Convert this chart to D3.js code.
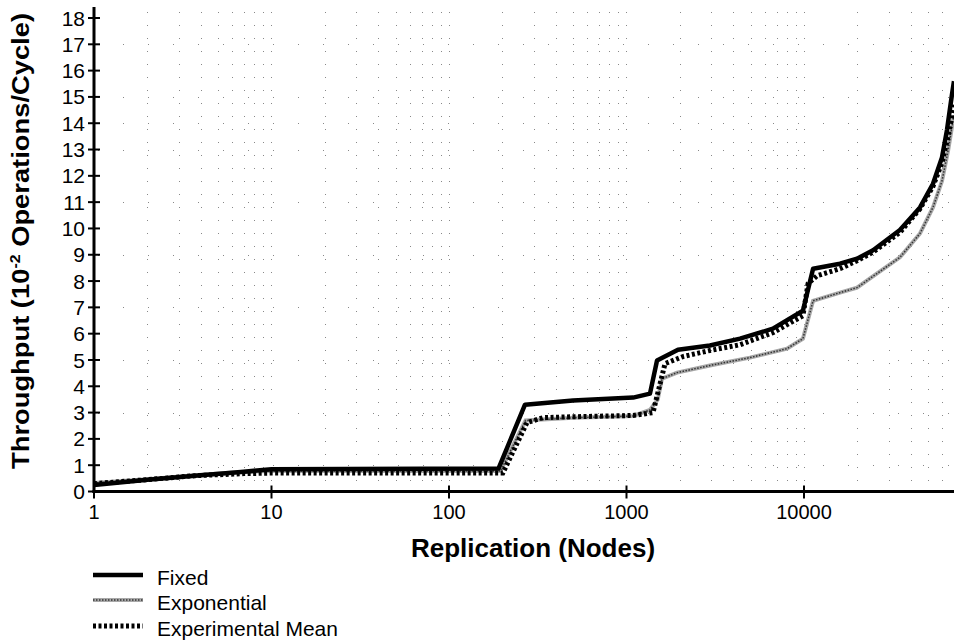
<!DOCTYPE html>
<html>
<head>
<meta charset="utf-8">
<script src="https://cdn.jsdelivr.net/npm/d3@7"></script>
<style>
  body { margin: 0; background: #fff; }
  svg { display: block; font-family: "Liberation Sans", Arial, Helvetica, sans-serif; }
</style>
</head>
<body>
<svg id="chart" width="954" height="642"></svg>
<script>
// series (x = nodes, y = 10^-2 ops/cycle)
const fixedX = [1, 2, 3.7, 7, 10, 190, 268, 500, 1090, 1356, 1486, 1950, 2950, 4360, 6680, 9860, 11250, 15950, 19900, 24500, 34700, 45050, 53300, 59900, 63900, 68200, 70000];
const fixedY = [0.25, 0.45, 0.6, 0.75, 0.85, 0.87, 3.30, 3.46, 3.57, 3.72, 4.98, 5.39, 5.55, 5.81, 6.19, 6.87, 8.47, 8.66, 8.85, 9.17, 9.94, 10.8, 11.7, 12.7, 13.74, 15.1, 15.6];

const expoX = [1, 2, 3.7, 7, 10, 195, 270, 500, 1090, 1356, 1500, 1585, 1928, 2950, 4960, 8020, 9860, 11250, 15950, 19900, 23550, 34700, 45050, 53300, 59900, 64800, 69100, 70000];
const expoY = [0.32, 0.47, 0.62, 0.75, 0.78, 0.78, 2.7, 2.8, 2.87, 3.1, 3.5, 4.29, 4.52, 4.79, 5.09, 5.43, 5.81, 7.25, 7.56, 7.75, 8.1, 8.9, 9.81, 10.8, 11.8, 12.95, 14.1, 14.3];

const meanX = [1, 2, 3.7, 7, 10, 201, 275, 340, 569, 1090, 1410, 1648, 2080, 2950, 4360, 6680, 9860, 10540, 11830, 15950, 19900, 24500, 34700, 45050, 53300, 59900, 64800, 70000];
const meanY = [0.3, 0.45, 0.6, 0.68, 0.7, 0.7, 2.62, 2.81, 2.85, 2.89, 3.0, 4.86, 5.13, 5.36, 5.58, 6.04, 6.68, 7.9, 8.2, 8.47, 8.77, 9.1, 9.85, 10.75, 11.6, 12.5, 13.5, 14.7];

const xTicks = [1, 10, 100, 1000, 10000];
const yTicks = d3.range(0, 19);
const legendLabels = ['Fixed', 'Exponential', 'Experimental Mean'];

const margin = {left: 94, right: 954, top: 18, bottom: 491.5};

const svg = d3.select('#chart');
const x = d3.scaleLog().domain([1, 70000]).range([margin.left, margin.right]);
const y = d3.scaleLinear().domain([0, 18]).range([margin.bottom, margin.top]);

const zip = (xs, ys) => xs.map((v, i) => ({x: v, y: ys[i]}));
const line = d3.line().x(d => x(d.x)).y(d => y(d.y));

svg.append('defs').append('clipPath').attr('id', 'plot')
  .append('rect').attr('x', margin.left).attr('y', 0)
  .attr('width', margin.right - margin.left).attr('height', margin.bottom + 2);

// faint dotted grid, like the scanned original
const minor = [];
for (let e = 0; e <= 4; e++) for (let m = 1; m <= 9; m++) minor.push(m * Math.pow(10, e));
const grid = svg.append('g').attr('stroke', '#888').attr('stroke-width', 1);
grid.selectAll('line.v').data(minor.filter(d => d > 1 && d < 70000)).enter().append('line')
  .attr('x1', d => Math.round(x(d)) + 0.5).attr('x2', d => Math.round(x(d)) + 0.5)
  .attr('y1', 12).attr('y2', margin.bottom - 2)
  .attr('stroke-dasharray', '1,12');
grid.selectAll('line.h').data(yTicks.filter(d => d % 2 === 1 || d === 14)).enter().append('line')
  .attr('x1', margin.left + 4).attr('x2', margin.right)
  .attr('y1', d => Math.round(y(d)) + 0.5).attr('y2', d => Math.round(y(d)) + 0.5)
  .attr('stroke-dasharray', '1,24');

const plot = svg.append('g').attr('clip-path', 'url(#plot)');

// exponential: grey hatched
plot.append('path').datum(zip(expoX, expoY)).attr('d', line)
  .attr('fill', 'none').attr('stroke', '#a8a8a8').attr('stroke-width', 4);
plot.append('path').datum(zip(expoX, expoY)).attr('d', line)
  .attr('fill', 'none').attr('stroke', '#333').attr('stroke-width', 1.5).attr('stroke-dasharray', '1.5,1.5');

// fixed: thick solid
plot.append('path').datum(zip(fixedX, fixedY)).attr('d', line)
  .attr('fill', 'none').attr('stroke', '#000').attr('stroke-width', 4.5).attr('stroke-linejoin', 'round');

// experimental mean: thick dotted
plot.append('path').datum(zip(meanX, meanY)).attr('d', line)
  .attr('fill', 'none').attr('stroke', '#000').attr('stroke-width', 5).attr('stroke-dasharray', '3,2.5');

// axes
svg.append('line').attr('x1', margin.left).attr('x2', margin.left).attr('y1', 7).attr('y2', margin.bottom + 1.5)
  .attr('stroke', '#000').attr('stroke-width', 3);
svg.append('line').attr('x1', margin.left - 1.5).attr('x2', margin.right).attr('y1', margin.bottom).attr('y2', margin.bottom)
  .attr('stroke', '#000').attr('stroke-width', 3);

const yAxis = svg.append('g');
yAxis.selectAll('line').data(yTicks).enter().append('line')
  .attr('x1', margin.left - 6).attr('x2', margin.left + 6)
  .attr('y1', d => y(d)).attr('y2', d => y(d))
  .attr('stroke', '#000').attr('stroke-width', 2);
yAxis.selectAll('text').data(yTicks).enter().append('text')
  .attr('x', margin.left - 9).attr('y', d => y(d)).attr('dy', '0.36em')
  .attr('text-anchor', 'end').attr('font-size', 21).text(d => d);

const xAxis = svg.append('g');
xAxis.selectAll('line').data(xTicks).enter().append('line')
  .attr('x1', d => x(d)).attr('x2', d => x(d))
  .attr('y1', margin.bottom - 6).attr('y2', margin.bottom + 7)
  .attr('stroke', '#000').attr('stroke-width', 2);
xAxis.selectAll('text').data(xTicks).enter().append('text')
  .attr('x', d => x(d)).attr('y', 519)
  .attr('text-anchor', 'middle').attr('font-size', 20).text(d => d);

svg.append('text').attr('x', 533).attr('y', 557)
  .attr('text-anchor', 'middle').attr('font-size', 26).attr('font-weight', 'bold')
  .text('Replication (Nodes)');

const yTitle = svg.append('text')
  .attr('transform', 'translate(29,241) rotate(-90)')
  .attr('text-anchor', 'middle').attr('font-size', 24).attr('font-weight', 'bold')
  .attr('textLength', 456).attr('lengthAdjust', 'spacingAndGlyphs');
yTitle.append('tspan').text('Throughput (10');
yTitle.append('tspan').attr('font-size', 14).attr('dy', -9).text('-2');
yTitle.append('tspan').attr('dy', 9).text(' Operations/Cycle)');

// legend
const legend = svg.append('g');
const ly = [575, 600, 626];
const base = [585, 610, 636];
legend.append('line').attr('x1', 93).attr('x2', 143).attr('y1', ly[0]).attr('y2', ly[0])
  .attr('stroke', '#000').attr('stroke-width', 4.5);
legend.append('line').attr('x1', 93).attr('x2', 143).attr('y1', ly[1]).attr('y2', ly[1])
  .attr('stroke', '#a8a8a8').attr('stroke-width', 4);
legend.append('line').attr('x1', 93).attr('x2', 143).attr('y1', ly[1]).attr('y2', ly[1])
  .attr('stroke', '#333').attr('stroke-width', 1.5).attr('stroke-dasharray', '1.5,1.5');
legend.append('line').attr('x1', 93).attr('x2', 143).attr('y1', ly[2]).attr('y2', ly[2])
  .attr('stroke', '#000').attr('stroke-width', 5).attr('stroke-dasharray', '3,2.5');
legend.selectAll('text').data(legendLabels).enter().append('text')
  .attr('x', 157).attr('y', (d, i) => base[i])
  .attr('font-size', 21).text(d => d);
</script>
</body>
</html>
